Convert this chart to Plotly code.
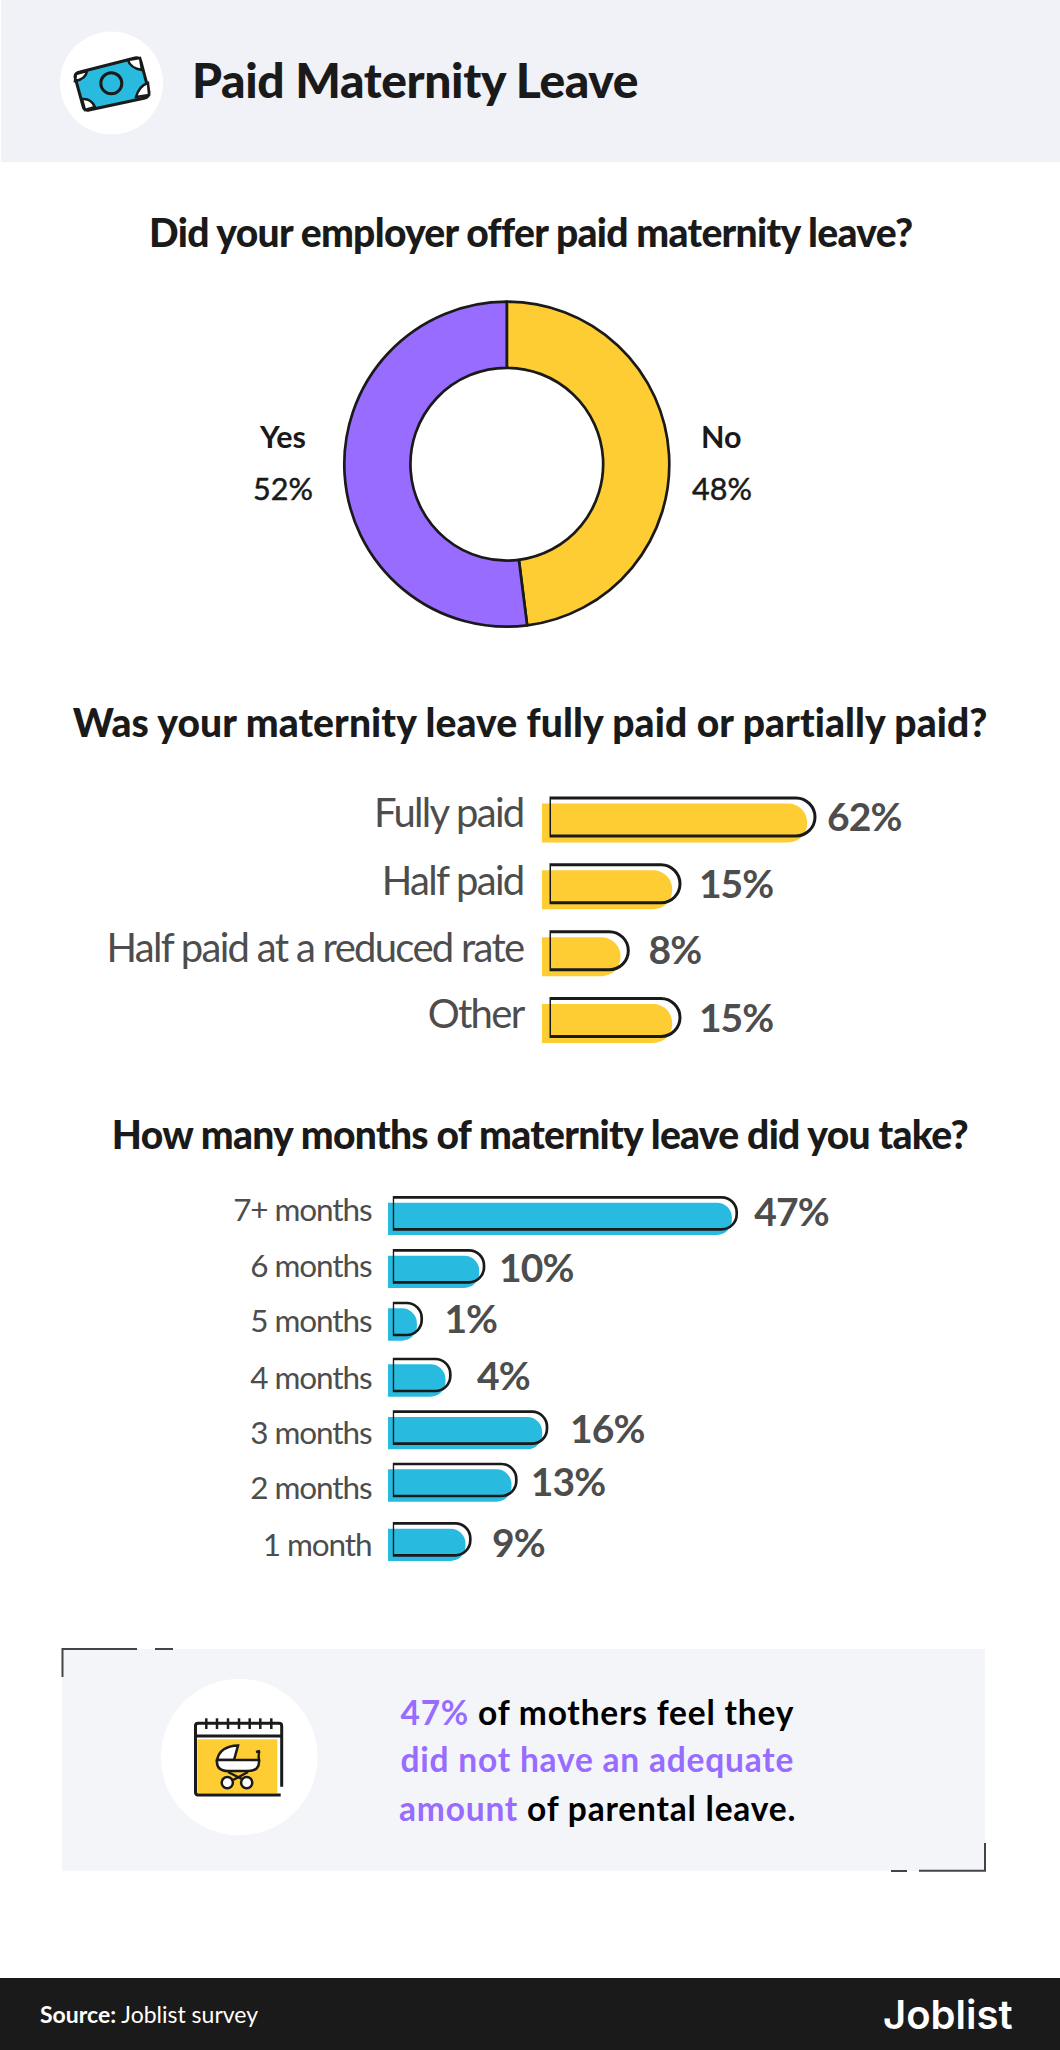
import plotly.graph_objects as go

W, H = 1060, 2050
INK = "#1a1a1a"
GREY = "#4d4d4d"
YELLOW = "#fecd33"
PURPLE = "#976cff"
BLUE = "#29bbdf"
FONT = "Lato"


def px(x):
    return x / W


def py(y):
    return 1 - y / H


def path(d):
    # d is a list of (command, x, y, ...) in page pixels
    out = []
    for seg in d:
        cmd, nums = seg[0], seg[1:]
        coords = [px(v) if i % 2 == 0 else py(v) for i, v in enumerate(nums)]
        out.append(cmd + " " + " ".join(f"{c:.5f}" for c in coords))
    return " ".join(out)


def box(x0, y0, x1, y1, color):
    return dict(type="rect", xref="paper", yref="paper", x0=px(x0), x1=px(x1), y0=py(y0), y1=py(y1),
                fillcolor=color, line_width=0, layer="below")


def circle(cx, cy, r, fill, line=None, lw=0):
    return dict(type="circle", xref="paper", yref="paper", x0=px(cx - r), x1=px(cx + r), y0=py(cy - r), y1=py(cy + r),
                fillcolor=fill, line=dict(color=line or fill, width=lw), layer="above")


def stroke(d, color=INK, lw=3, fill="rgba(0,0,0,0)"):
    return dict(type="path", xref="paper", yref="paper", path=path(d), fillcolor=fill,
                line=dict(color=color, width=lw), layer="above")


def label(x, y, text, size, color=INK, weight=400, anchor="center", family=FONT):
    return dict(xref="paper", yref="paper", x=px(x), y=py(y), text=text, showarrow=False, xanchor=anchor,
                yanchor="middle", font=dict(family=family, size=size, color=color, weight=weight))


# donut
donut = {"labels": ["No", "Yes"], "values": [48, 52]}

# bar lengths as drawn in the graphic (they are not to scale with the percentages)
paid = {
    "names": ["Fully paid", "Half paid", "Half paid at a reduced rate", "Other"],
    "pct": ["62%", "15%", "8%", "15%"],
    "length": [265.5, 130.5, 78.8, 130.5],
    "y": [47, 113.8, 180.7, 247.5],
    "name_y": [43, 111, 177.6, 244],
    "pct_x": [277.5, 149.4, 99, 149.4],
    "pct_y": [51.5, 118.5, 184, 252.2],
}
months = {
    "names": ["7+ months", "6 months", "5 months", "4 months", "3 months", "2 months", "1 month"],
    "pct": ["47%", "10%", "1%", "4%", "16%", "13%", "9%"],
    "length": [343.9, 91.2, 28.9, 57.5, 154.2, 123.5, 77.5],
    "y": [33.3, 86.3, 139, 195, 247.7, 300, 359.3],
    "name_y": [30, 86, 141, 197.6, 252.6, 308, 365],
    "pct_x": [361.5, 106.3, 51.6, 84.2, 177.3, 137.9, 99.2],
    "pct_y": [36.5, 92.7, 143.2, 200.3, 253, 306.5, 367],
}

fig = go.Figure()

fig.add_trace(go.Pie(labels=donut["labels"], values=donut["values"], sort=False, direction="clockwise", rotation=0,
                     hole=0.593, marker=dict(colors=[YELLOW, PURPLE], line=dict(color=INK, width=2.7)),
                     textinfo="none", showlegend=False,
                     domain=dict(x=[px(344.3), px(669.3)], y=[py(626.7), py(301.7)])))


def add_bars(d, xf, yf, xo, yo, fill, fill_h, line_h, lw, radius):
    fig.add_trace(go.Bar(x=d["length"], y=d["y"], orientation="h", width=fill_h, xaxis=xf, yaxis=yf,
                         marker=dict(color=fill, line_width=0, cornerradius=radius), showlegend=False))
    fig.add_trace(go.Bar(x=d["length"], y=d["y"], orientation="h", width=line_h, xaxis=xo, yaxis=yo,
                         marker=dict(color="rgba(0,0,0,0)", line=dict(color=INK, width=lw), cornerradius=radius),
                         showlegend=False))
    fig.add_trace(go.Scatter(x=d["pct_x"], y=d["pct_y"], text=d["pct"], mode="text", textposition="middle right",
                             textfont=dict(family=FONT, size=39, color=GREY, weight=700), xaxis=xo, yaxis=yo,
                             showlegend=False, cliponaxis=False))


add_bars(paid, "x", "y", "x2", "y2", YELLOW, 39, 38, 3, 19)
add_bars(months, "x3", "y3", "x4", "y4", BLUE, 32.3, 32, 2.7, 15)

hidden = dict(visible=False, showgrid=False, zeroline=False)


def x_axis(x0, anchor):
    return dict(domain=[px(x0), 1], range=[0, W - x0], anchor=anchor, **hidden)


def y_hidden(y0, y1, anchor):
    return dict(domain=[py(y1), py(y0)], range=[y1 - y0, 0], anchor=anchor, **hidden)


def y_named(y0, y1, anchor, d, size, ticklen):
    return dict(domain=[py(y1), py(y0)], range=[y1 - y0, 0], anchor=anchor, showgrid=False, zeroline=False,
                showline=False, tickmode="array", tickvals=d["name_y"], ticktext=d["names"], ticks="outside",
                ticklen=ticklen, tickcolor="rgba(0,0,0,0)", tickfont=dict(family=FONT, size=size, color=GREY))


shapes = [
    box(1, 0, W, 162, "#f0f2f7"),
    box(0, 1978, W, H, INK),
    box(62, 1649, 985, 1870.7, "#f4f5f9"),
    circle(111.5, 83, 51.5, "white"),
    circle(239.3, 1757, 78.3, "white"),
]

# callout corner marks
shapes += [
    stroke([("M", 62.5, 1677), ("L", 62.5, 1649), ("L", 137, 1649)], "#444444", 2),
    stroke([("M", 155, 1649), ("L", 173, 1649)], "#444444", 2),
    stroke([("M", 985, 1843), ("L", 985, 1870.7), ("L", 919, 1870.7)], "#444444", 2),
    stroke([("M", 891, 1871), ("L", 907, 1871)], "#444444", 2),
]

# banknote icon
shapes += [
    stroke([("M", 80, 72), ("L", 135, 58), ("Q", 140, 57, 141, 62), ("L", 149, 92), ("Q", 149, 97, 145, 98),
            ("L", 89, 110), ("Q", 84, 111, 83, 106), ("L", 75, 77), ("Q", 75, 73, 80, 72), ("Z",)],
           INK, 3, BLUE),
    circle(111.3, 83.3, 10.5, "rgba(0,0,0,0)", INK, 3),
    stroke([("M", 128, 60), ("Q", 130, 68, 142, 70), ("L", 140, 58), ("Z",)], INK, 2.5, "white"),
    stroke([("M", 75, 81), ("Q", 86, 79, 87, 71), ("L", 76, 74), ("Z",)], INK, 2.5, "white"),
    stroke([("M", 148, 83), ("Q", 139, 86, 136, 97), ("L", 149, 95), ("Z",)], INK, 2.5, "white"),
    stroke([("M", 82, 99), ("Q", 91, 98, 95, 107), ("L", 85, 110), ("Z",)], INK, 2.5, "white"),
]

# calendar and pram icon
shapes += [
    box(197, 1725, 281, 1738, "white"),
    dict(box(197.3, 1739.3, 277.3, 1793.3, YELLOW), layer="above"),
    stroke([("M", 281.7, 1786.7), ("L", 281.7, 1726), ("Q", 281.7, 1723.3, 279, 1723.3), ("L", 198, 1723.3),
            ("Q", 195.5, 1723.3, 195.5, 1726), ("L", 195.5, 1792), ("Q", 195.5, 1795, 198, 1795), ("L", 280.7, 1795)]),
    stroke([("M", 195.5, 1736), ("L", 281.7, 1736)]),
]
for tick_x in [206.3, 217, 228, 239, 249.7, 260.3, 271.3]:
    shapes.append(stroke([("M", tick_x, 1718.3), ("L", tick_x, 1729)], INK, 2.5))
shapes += [
    stroke([("M", 217, 1760), ("Q", 220, 1746, 238, 1745.5), ("L", 234, 1760), ("Z",)], INK, 2.5, "white"),
    stroke([("M", 217, 1760), ("L", 259, 1760), ("Q", 260, 1771, 248, 1771), ("L", 228, 1771),
            ("Q", 216, 1771, 217, 1760), ("Z",)], INK, 2.5, "white"),
    stroke([("M", 259, 1761), ("Q", 258, 1752, 260, 1751), ("L", 260, 1751), ("Q", 260, 1751, 256, 1752)], INK, 2.5),
    stroke([("M", 228, 1772), ("L", 244, 1780)], INK, 2.5),
    stroke([("M", 248, 1772), ("L", 233, 1780)], INK, 2.5),
    circle(227.3, 1782.7, 5.6, "white", INK, 2.5),
    circle(246.7, 1782.7, 5.6, "white", INK, 2.5),
]

annotations = [
    label(415, 79.7, "Paid Maternity Leave", 48, INK, 900),
    label(530, 231.7, "Did your employer offer paid maternity leave?", 39, INK, 900),
    label(530, 721.7, "Was your maternity leave fully paid or partially paid?", 39, INK, 900),
    label(539.8, 1134, "How many months of maternity leave did you take?", 39, INK, 900),
    label(282.5, 436.5, "Yes", 30.5, INK, 700),
    label(282.5, 487.5, "52%", 30.5, INK, 400),
    label(721.5, 436.5, "No", 30.5, INK, 700),
    label(721.5, 487.5, "48%", 30.5, INK, 400),
    label(597, 1712, f"<span style='color:{PURPLE}'>47%</span> of mothers feel they", 33.5, "#000000", 700),
    label(597, 1758.5, f"<span style='color:{PURPLE}'>did not have an adequate</span>", 33.5, "#000000", 700),
    label(597, 1807.5, f"<span style='color:{PURPLE}'>amount</span> of parental leave.", 33.5, "#000000", 700),
    label(38.3, 2014, "<b>Source:</b> Joblist survey", 23, "white", 400, "left"),
    label(947.5, 2014, "Joblist", 40, "white", 600, family="Inter"),
]

fig.update_layout(
    width=W, height=H, margin=dict(l=0, r=0, t=0, b=0), paper_bgcolor="white", plot_bgcolor="rgba(0,0,0,0)",
    barmode="overlay", showlegend=False, shapes=shapes, annotations=annotations,
    xaxis=x_axis(541.7, "y"), yaxis=y_hidden(776, 1076, "x"),
    xaxis2=x_axis(549.5, "y2"), yaxis2=y_named(770, 1070, "x2", paid, 40, 17),
    xaxis3=x_axis(388, "y3"), yaxis3=y_hidden(1185.5, 1585.5, "x3"),
    xaxis4=x_axis(392.8, "y4"), yaxis4=y_named(1180, 1580, "x4", months, 31.5, 14),
)

# the source lettering is tracked tighter or looser than the plain font
tracking = """
document.body.style.margin = '0';
document.documentElement.style.overflow = 'hidden';
const track = (sel, sp) => document.querySelectorAll(sel).forEach(t => { t.style.letterSpacing = sp; });
track('.yaxislayer-above .y2tick text', '-1.7px');
track('.yaxislayer-above .y4tick text', '-1.1px');
track('.textpoint text', '-0.9px');
document.querySelectorAll('.annotation-text').forEach(t => {
  const s = t.textContent;
  if (s.startsWith('Paid')) t.style.letterSpacing = '-0.4px';
  if (s.startsWith('Did') || s.startsWith('How')) t.style.letterSpacing = '-0.7px';
  if (s.startsWith('Was')) t.style.letterSpacing = '0.1px';
  if (s.includes('mothers') || s.includes('adequate') || s.includes('parental')) t.style.letterSpacing = '0.8px';
  if (s === '52%' || s === '48%') { t.style.stroke = '#1a1a1a'; t.style.strokeWidth = '0.5px'; }
});
"""
fig.write_html("out.html", config={"displayModeBar": False}, post_script=tracking)
